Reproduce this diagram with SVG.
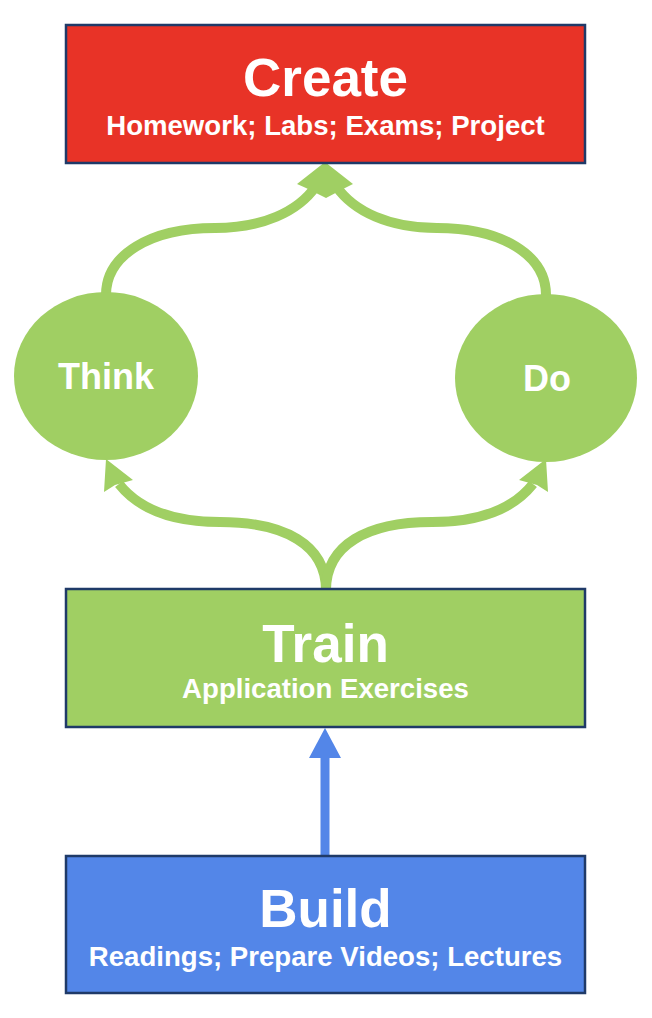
<svg xmlns="http://www.w3.org/2000/svg" width="652" height="1018" viewBox="0 0 652 1018">
<style>
.box{stroke:#1F3A68;stroke-width:2.5}
.t{font-family:"Liberation Sans",Arial,sans-serif;font-weight:bold;fill:#fff;text-anchor:middle}
.title{font-size:53px}
.sub{font-size:27.6px}
.circ{font-size:36px}
.arc{fill:none;stroke:#A0CF63;stroke-width:10}
.ah{fill:#A0CF63}
</style>
<rect width="652" height="1018" fill="#fff"/>
<g id="connectors">
<path class="arc" d="M106 295 C106 255 150 228 215 228 C262 228 298 212 316 186"/>
<path class="arc" d="M546 295 C546 255 502 228 437 228 C390 228 354 212 336 186"/>
<polygon class="ah" points="325,162 353,184 345,188 326,198 306,188 297,184"/>
<path class="arc" d="M326 590 C326 545 285 522 220 522 C172 522 138 508 119 484"/>
<path class="arc" d="M326 590 C326 545 367 522 432 522 C480 522 514 508 533 484"/>
<polygon class="ah" points="106,459 133,480 115,485 104,492"/>
<polygon class="ah" points="546,459 548,492 537,485 519,480"/>
<line x1="325" y1="856" x2="325" y2="754" stroke="#5386E8" stroke-width="9"/>
<polygon points="325,728 341,758 309,758" fill="#5386E8"/>
</g>
<g id="create">
<rect class="box" x="66" y="25" width="519" height="138" fill="#E83327"/>
<text class="t title" x="325.5" y="96">Create</text>
<text class="t sub" x="325.5" y="135">Homework; Labs; Exams; Project</text>
</g>
<g id="think">
<ellipse cx="106" cy="376" rx="92" ry="84" fill="#A0CF63"/>
<text class="t circ" x="106" y="389">Think</text>
</g>
<g id="do">
<ellipse cx="546" cy="378" rx="91" ry="84" fill="#A0CF63"/>
<text class="t circ" x="547" y="391">Do</text>
</g>
<g id="train">
<rect class="box" x="66" y="589" width="519" height="138" fill="#A0CF63"/>
<text class="t title" x="325.5" y="662">Train</text>
<text class="t sub" x="325.5" y="698">Application Exercises</text>
</g>
<g id="build">
<rect class="box" x="66" y="856" width="519" height="137" fill="#5386E8"/>
<text class="t title" x="325.5" y="927">Build</text>
<text class="t sub" x="325.5" y="966">Readings; Prepare Videos; Lectures</text>
</g>
</svg>
